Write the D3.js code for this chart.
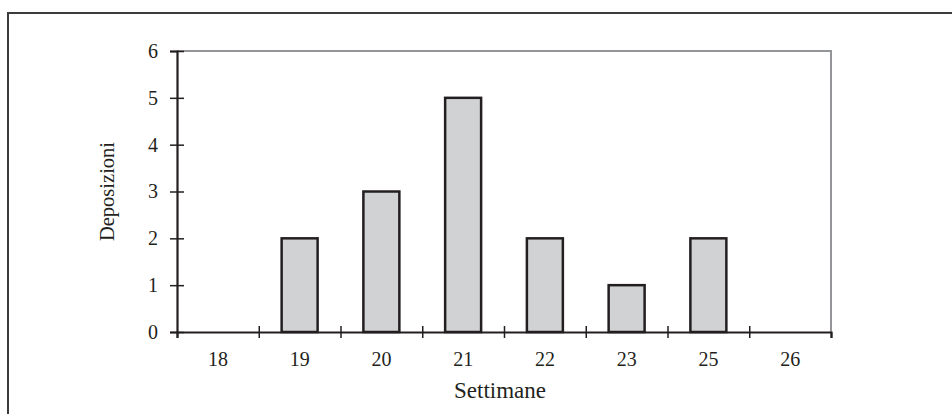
<!DOCTYPE html>
<html>
<head>
<meta charset="utf-8">
<script src="https://cdn.jsdelivr.net/npm/d3@7/dist/d3.min.js"></script>
<style>
  body { margin: 0; background: #fff; }
  text { font-family: "Liberation Serif", "DejaVu Serif", serif; fill: #231f20; }
</style>
</head>
<body>
<div id="chart"></div>
<script>
// data
let weeks = ['18', '19', '20', '21', '22', '23', '25', '26'];
let depositions = [0, 2, 3, 5, 2, 1, 2, 0];
let yTicks = [0, 1, 2, 3, 4, 5, 6];

let config = { svg: {}, plot: {} };
config.svg.width = 952;
config.svg.height = 414;
config.plot.left = 177;
config.plot.right = 831;
config.plot.top = 51;
config.plot.bottom = 332;

function translate(x, y) {
  return 'translate(' + x + ',' + y + ')';
}

var svg = d3.select('#chart').append('svg')
  .attr('width', config.svg.width)
  .attr('height', config.svg.height);

// outer frame (runs off the right and bottom edges)
svg.append('rect')
  .attr('x', 8).attr('y', 13)
  .attr('width', 1000).attr('height', 500)
  .attr('fill', 'none')
  .attr('stroke', '#3c3c3c')
  .attr('stroke-width', 2);

var x = d3.scaleBand()
  .domain(weeks)
  .range([config.plot.left, config.plot.right])
  .paddingInner(0.56)
  .paddingOuter(0.28);

// boundaries between categories, for the tick marks
var xEdge = d3.scaleLinear()
  .domain([0, weeks.length])
  .range([config.plot.left, config.plot.right]);

var y = d3.scaleLinear()
  .domain([0, 6])
  .range([config.plot.bottom, config.plot.top]);

// gray plot border (top + right)
svg.append('path')
  .attr('d', 'M' + config.plot.left + ',' + y(6) + 'H' + config.plot.right + 'V' + y(0))
  .attr('fill', 'none')
  .attr('stroke', '#939598')
  .attr('stroke-width', 2);

// bars
svg.selectAll('.bar')
  .data(weeks)
  .enter().append('rect')
  .attr('class', 'bar')
  .attr('x', function(d) { return x(d); })
  .attr('width', x.bandwidth())
  .attr('y', function(d, i) { return y(depositions[i]); })
  .attr('height', function(d, i) { return y(0) - y(depositions[i]); })
  .attr('fill', '#d1d2d4')
  .attr('stroke', '#231f20')
  .attr('stroke-width', 2.5);

// y axis
var yAxis = svg.append('g')
  .attr('transform', translate(config.plot.left, 0))
  .call(d3.axisLeft(y).tickValues(yTicks).tickFormat(d3.format('d')).tickSize(7));
yAxis.select('.domain').attr('stroke', '#231f20').attr('stroke-width', 2.2);
yAxis.selectAll('.tick line').attr('x2', 7).attr('x1', -7)
  .attr('stroke', '#231f20').attr('stroke-width', 1.5);
yAxis.selectAll('.tick text')
  .attr('x', -19)
  .style('font-size', '20px')
  .style('font-family', '"Liberation Serif", serif')
  .attr('fill', '#231f20');

// x axis line + boundary ticks
var xAxis = svg.append('g')
  .attr('transform', translate(0, config.plot.bottom))
  .call(d3.axisBottom(xEdge).ticks(weeks.length).tickSize(6).tickFormat(''));
xAxis.select('.domain').attr('stroke', '#231f20').attr('stroke-width', 2.2);
xAxis.selectAll('.tick line').attr('y1', -6)
  .attr('stroke', '#231f20').attr('stroke-width', 1.5);
xAxis.selectAll('.tick line').filter(function(d) { return d === 0 || d === weeks.length; })
  .attr('y1', 0);

// x category labels
svg.append('g').selectAll('.xlabel')
  .data(weeks)
  .enter().append('text')
  .attr('x', function(d) { return x(d) + x.bandwidth() / 2; })
  .attr('y', 366)
  .attr('text-anchor', 'middle')
  .style('font-size', '20px')
  .text(function(d) { return d; });

// axis titles
svg.append('text')
  .attr('x', 500).attr('y', 398)
  .attr('text-anchor', 'middle')
  .style('font-size', '23px')
  .text('Settimane');

svg.append('text')
  .attr('transform', translate(114, 191.5) + ' rotate(-90)')
  .attr('text-anchor', 'middle')
  .style('font-size', '20.5px')
  .text('Deposizioni');
</script>
</body>
</html>
